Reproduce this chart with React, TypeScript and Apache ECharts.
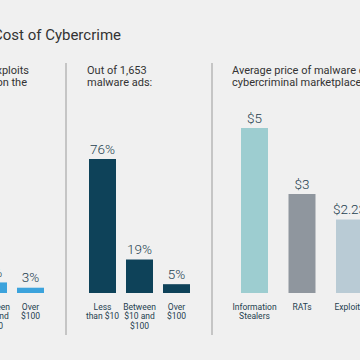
import React, { useEffect, useRef } from "react";
import * as echarts from "echarts";

const leftCategories = ["Less\nthan $10", "Between\n$10 and\n$100", "Over\n$100"];
const leftValues = [91, 6, 3];
const midCategories = ["Less\nthan $10", "Between\n$10 and\n$100", "Over\n$100"];
const midValues = [76, 19, 5];
const rightCategories = ["Information\nStealers", "RATs", "Exploits"];
const rightValues = [5, 3, 2.23];
const rightColors = ["#9dcdd0", "#8f969e", "#b9cbd5"];

const FONT = "Roboto, 'Liberation Sans', Arial, sans-serif";
const LABEL_COLOR = "#25404f";
const TEXT_COLOR = "#333333";
const OFF = 100; // the chart is wider than the window and shifted left by OFF
const EXTRA = 60; // extra width past the right edge of the window

export default function App() {
  const ref = useRef<HTMLDivElement>(null);
  useEffect(() => {
    if (!ref.current) return;
    const chart = echarts.init(ref.current, null, { renderer: "svg" });
    const axisLabel = {
      color: LABEL_COLOR,
      fontSize: 8.5,
      lineHeight: 9.5,
      margin: 9,
      fontFamily: FONT,
      interval: 0,
    };
    const xBase = {
      type: "category" as const,
      axisLine: { show: false },
      axisTick: { show: false },
      axisLabel,
    };
    const yBase = {
      type: "value" as const,
      min: 0,
      show: false,
      splitLine: { show: false },
    };
    const valueLabel = (fmt: (v: number) => string) => ({
      show: true,
      position: "top" as const,
      distance: 3.5,
      color: LABEL_COLOR,
      fontSize: 13.5,
      fontFamily: FONT,
      fontWeight: 300,
      formatter: (p: any) => fmt(p.value),
    });
    const txt = (x: number, y: number, text: string, align: string, size = 11) => ({
      type: "text",
      x: x + OFF,
      y,
      style: {
        text,
        fill: TEXT_COLOR,
        font: `${size}px ${FONT}`,
        textAlign: align,
        textVerticalAlign: "middle",
      },
    });
    chart.setOption({
      animation: false,
      backgroundColor: "#f0f0f0",
      grid: [
        { left: -62 + OFF, top: 116.7, width: 111, height: 176.3 },
        { left: 84 + OFF, top: 116.7, width: 111, height: 176.3 },
        { left: 230.75 + OFF, top: 128, width: 142.5, height: 165 },
      ],
      xAxis: [
        { ...xBase, gridIndex: 0, data: leftCategories },
        { ...xBase, gridIndex: 1, data: midCategories },
        { ...xBase, gridIndex: 2, data: rightCategories },
      ],
      yAxis: [
        { ...yBase, gridIndex: 0, max: 100 },
        { ...yBase, gridIndex: 1, max: 100 },
        { ...yBase, gridIndex: 2, max: 5 },
      ],
      series: [
        {
          type: "bar",
          xAxisIndex: 0,
          yAxisIndex: 0,
          data: leftValues,
          barWidth: 27,
          itemStyle: { color: "#3ca3dc" },
          label: valueLabel((v) => v + "%"),
        },
        {
          type: "bar",
          xAxisIndex: 1,
          yAxisIndex: 1,
          data: midValues,
          barWidth: 27,
          itemStyle: { color: "#0e4259" },
          label: valueLabel((v) => v + "%"),
        },
        {
          type: "bar",
          xAxisIndex: 2,
          yAxisIndex: 2,
          data: rightValues.map((v, i) => ({ value: v, itemStyle: { color: rightColors[i] } })),
          barWidth: 27,
          label: valueLabel((v) => "$" + v),
        },
      ],
      graphic: [
        txt(121, 35, "The Cost of Cybercrime", "right", 15),
        txt(29, 70.5, "Price range of exploits", "right"),
        txt(27, 82, "advertised on the", "right"),
        txt(87, 70.5, "Out of 1,653", "left"),
        txt(87, 82, "malware ads:", "left"),
        txt(232, 70.5, "Average price of malware on", "left"),
        txt(232, 82, "cybercriminal marketplaces:", "left"),
        {
          type: "line",
          shape: { x1: 66 + OFF, y1: 63, x2: 66 + OFF, y2: 335 },
          style: { stroke: "#9a9a9a", lineWidth: 1 },
        },
        {
          type: "line",
          shape: { x1: 212 + OFF, y1: 63, x2: 212 + OFF, y2: 335 },
          style: { stroke: "#9a9a9a", lineWidth: 1 },
        },
      ],
    });
    return () => chart.dispose();
  }, []);
  return (
    <div style={{ position: "fixed", left: 0, top: 0, width: 360, height: 360, overflow: "hidden" }}>
      <div
        ref={ref}
        style={{ position: "absolute", left: -OFF, top: 0, width: 360 + OFF + EXTRA, height: 360 }}
      />
    </div>
  );
}
